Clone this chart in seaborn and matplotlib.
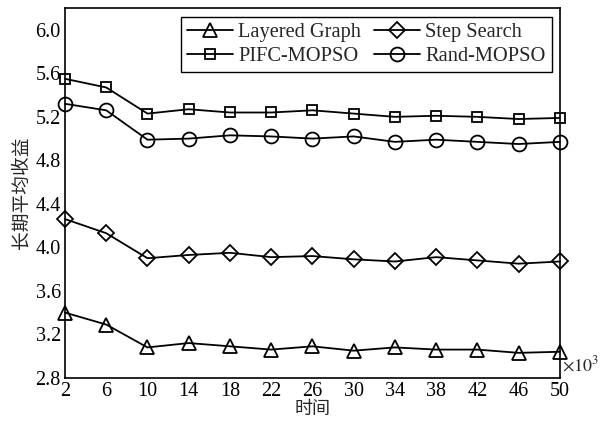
import matplotlib
matplotlib.use("Agg")
import matplotlib.pyplot as plt
import seaborn as sns
import pandas as pd

# Time steps (x10^3)
time_steps = [2, 6, 10, 14, 18, 22, 26, 30, 34, 38, 42, 46, 50]

layered_graph = [3.40, 3.29, 3.08, 3.12, 3.09, 3.06, 3.09, 3.05, 3.08, 3.06, 3.06, 3.03, 3.04]
step_search = [4.26, 4.13, 3.90, 3.93, 3.95, 3.91, 3.92, 3.89, 3.87, 3.91, 3.88, 3.85, 3.87]
pifc_mopso = [5.55, 5.47, 5.23, 5.27, 5.24, 5.24, 5.26, 5.23, 5.20, 5.21, 5.20, 5.18, 5.19]
rand_mopso = [5.32, 5.26, 4.99, 5.00, 5.03, 5.02, 5.00, 5.02, 4.97, 4.99, 4.97, 4.95, 4.97]

series_names = ["Layered Graph", "Step Search", "PIFC-MOPSO", "Rand-MOPSO"]
series_values = [layered_graph, step_search, pifc_mopso, rand_mopso]
series_markers = ["^", "D", "s", "o"]
marker_sizes = [10, 8, 7.5, 10]

y_ticks = [2.8, 3.2, 3.6, 4.0, 4.4, 4.8, 5.2, 5.6, 6.0]

sns.set_style("white")
plt.rcParams["font.family"] = ["Liberation Serif", "Noto Sans CJK SC"]
plt.rcParams["mathtext.fontset"] = "stix"

fig = plt.figure(figsize=(6.02, 4.26), dpi=100)
ax = fig.add_axes([0.108, 0.113, 0.822, 0.868])

for name, vals, mk, ms in zip(series_names, series_values, series_markers, marker_sizes):
    df = pd.DataFrame({"t": time_steps, "v": vals})
    sns.lineplot(data=df, x="t", y="v", ax=ax, color="black", linewidth=1.3,
                 marker=mk, markersize=ms, markerfacecolor="none",
                 markeredgecolor="black", markeredgewidth=1.3,
                 label=name, clip_on=False)

ax.set_xlim(2, 50)
ax.set_ylim(2.8, 6.2)
ax.set_xticks(time_steps)
ax.set_xticklabels([str(t) for t in time_steps])
ax.set_yticks(y_ticks)
ax.set_yticklabels([f"{v:.1f}" for v in y_ticks])
ax.tick_params(axis="both", direction="in", length=4, width=1, labelsize=14.5,
               colors="black")
ax.tick_params(axis="x", pad=3)
ax.tick_params(axis="y", pad=3)
for sp in ax.spines.values():
    sp.set_color("black")
    sp.set_linewidth(1.2)

ax.set_xlabel("时间", fontsize=13, family=["Noto Sans CJK SC"], labelpad=-1)
ax.set_ylabel("长期平均收益", fontsize=13.5, family=["Noto Sans CJK SC"], labelpad=3)

ax.text(1.005, 0.035, r"$\times10^3$", transform=ax.transAxes, fontsize=13,
        ha="left", va="center")

# two rows: Layered Graph / Step Search on top, PIFC-MOPSO / Rand-MOPSO below
handles, labels = ax.get_legend_handles_labels()
order = [0, 2, 1, 3]
leg = ax.legend([handles[i] for i in order], [labels[i] for i in order],
                loc="upper right", ncol=2, fontsize=14.7, frameon=True,
                fancybox=False, edgecolor="black", framealpha=1,
                borderpad=0.3, handlelength=2.25, handletextpad=0.25,
                columnspacing=0.65, labelspacing=0.2, borderaxespad=0,
                bbox_to_anchor=(0.984, 0.976))
leg.get_frame().set_linewidth(1.0)

fig.savefig("out.png", dpi=100)
